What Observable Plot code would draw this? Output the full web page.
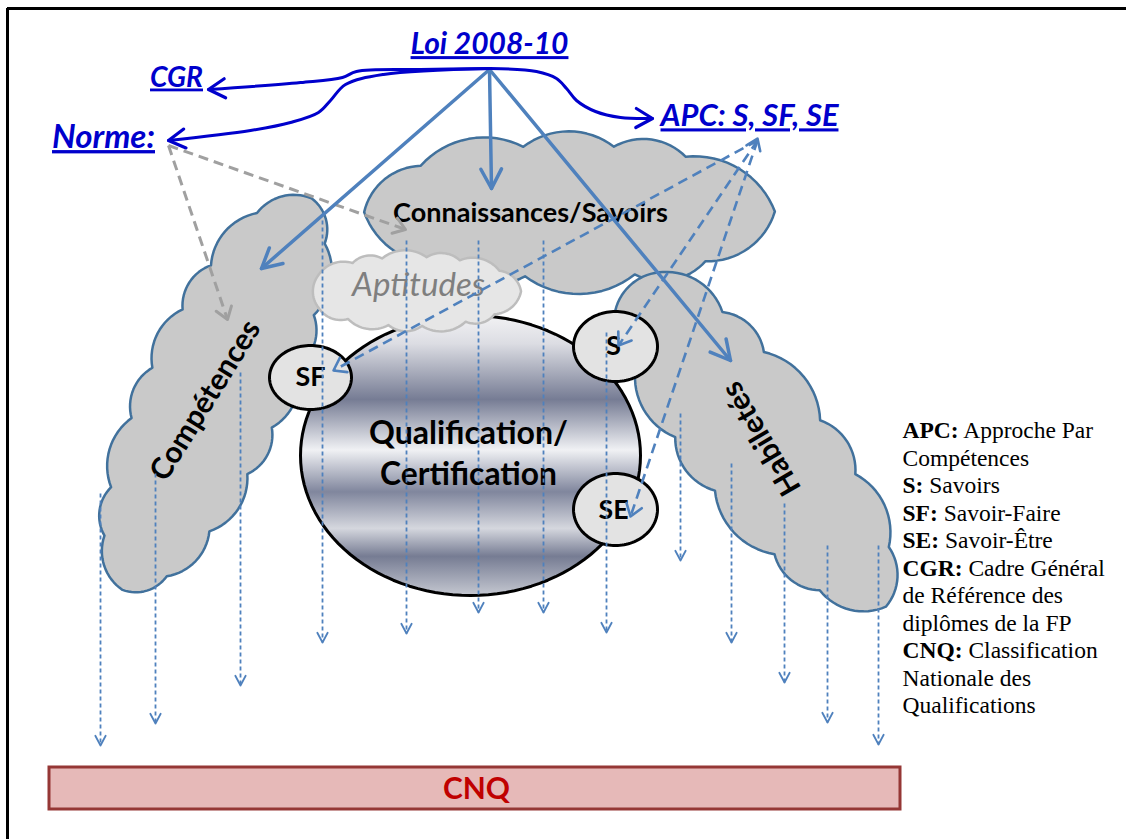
<!DOCTYPE html>
<html><head><meta charset="utf-8">
<script src="https://cdn.jsdelivr.net/npm/d3@7"></script>
<script src="https://cdn.jsdelivr.net/npm/@observablehq/plot@0.6"></script>
<style>body{margin:0;background:#fff} svg{display:block}</style>
</head><body><div id="chart"></div>
<script>
// ---------- texts ----------
const linkTexts = ["Loi 2008-10", "CGR", "Norme:", "APC: S, SF, SE"];
const shapeTexts = ["Connaissances/Savoirs", "Compétences", "Habiletés", "Qualification/", "Certification", "SF", "S", "SE"];
const aptText = "Aptitudes";
const cnqText = "CNQ";
const legendLines = ["APC: Approche Par", "Compétences", "S: Savoirs", "SF: Savoir-Faire", "SE: Savoir-Être",
  "CGR: Cadre Général", "de Référence des", "diplômes de la FP", "CNQ: Classification", "Nationale des", "Qualifications"];

// ---------- layout (diagram coordinates) ----------
const linkPos = [[489, 44], [176, 77], [103, 137], [749, 116]];
const linkWidths = [158, 53, 103, 178];
const shapePos = [[530, 213], [205, 400], [761, 438], [468, 433], [468, 474], [310, 377], [613, 346], [613, 510]];
const shapeWidths = [275, 182, 126, 199, 177, 30, 15, 30];
const shapeRotate = [0, -58.3, -120.4, 0, 0, 0, 0, 0];
const aptPos = [418, 285], aptWidth = 133;
const cnqPos = [476, 789], cnqWidth = 67;
const cnqBar = {x1: 49, x2: 900, y1: 767, y2: 809};
const legendX = 902, legendY0 = 430, legendStep = 27.5;

// clouds: center, half-length, half-width, axis angle, bump chord
const cloudNames = ["conn", "comp", "hab", "apt"];
const cloudCenter = [[569, 211], [214, 392], [754, 438], [413, 291]];
const cloudHalfLen = [221, 228, 226, 114];
const cloudHalfWid = [82, 77, 76, 41];
const cloudAngle = [0, 115, 52, 0];
const cloudBump = [92, 60, 74, 38];
const bumpWeights = [1, 0.8, 1.2, 0.9, 1.1, 0.85, 1.15];

// ellipses: big circle and SF / S / SE
const ellipseNames = ["qual", "SF", "S", "SE"];
const ellipseCenter = [[470, 455], [310, 377], [615, 346], [615, 509]];
const ellipseRadii = [[170, 140], [41, 32], [42, 35], [42, 36]];

// arrows
const loiOrigin = [489, 69];
const loiTargets = [[261, 268], [491, 188], [730, 360]];
const normeOrigin = [168, 145];
const normeTargets = [[405, 229], [227, 319]];
const apcOrigin = [757, 140];
const apcTargets = [[333, 370], [618, 345], [630, 516]];
const vArrowX = [100, 155, 240, 322, 406, 478, 543, 606, 680, 731, 784, 827, 878];
const vArrowTop = [493, 473, 372, 220, 240, 240, 240, 332, 413, 463, 503, 545, 545];
const vArrowTip = [745, 723, 685, 642, 633, 612, 612, 632, 560, 642, 682, 722, 744];
const curveCGR = [[490, 68], [420, 69], [356, 71], [342, 77], [300, 82], [208, 89]];
const curveNorme = [[490, 68], [383, 74], [345, 84], [330, 100], [318, 112], [290, 122], [250, 130], [168, 140]];
const curveAPC = [[490, 68], [536, 71], [556, 78], [566, 88], [576, 100], [595, 111], [620, 117], [652, 118]];

// ---------- helpers ----------
const ctx = document.createElement("canvas").getContext("2d");
function fitSize(text, width, weight, style, family) {
  ctx.font = `${style} ${weight} 100px ${family}`;
  return 100 * width / ctx.measureText(text).width;
}
const SANS = "Lato";
const BULGE = 0.17;

function cloudOutline(i) {
  const [cx, cy] = cloudCenter[i], bw = cloudBump[i], h0 = BULGE * bw;
  const a = cloudHalfLen[i] - h0, b = cloudHalfWid[i] - h0, th = cloudAngle[i] * Math.PI / 180;
  const rot = ([x, y]) => ({x: cx + x * Math.cos(th) - y * Math.sin(th), y: cy + x * Math.sin(th) + y * Math.cos(th), cloud: cloudNames[i]});
  const N = 720, pts = [], cum = [0];
  for (let k = 0; k <= N; k++) { const t = 2 * Math.PI * k / N; pts.push([a * Math.cos(t), b * Math.sin(t)]); }
  for (let k = 1; k <= N; k++) cum.push(cum[k - 1] + Math.hypot(pts[k][0] - pts[k - 1][0], pts[k][1] - pts[k - 1][1]));
  const per = cum[N], n = Math.max(6, Math.round(per / bw));
  const w = d3.range(n).map(j => bumpWeights[j % bumpWeights.length]), ws = d3.cumsum(w), tot = ws[n - 1];
  const cusps = [[a, 0]];
  let k = 0;
  for (let j = 0; j < n - 1; j++) {
    const target = per * ws[j] / tot;
    while (cum[k + 1] < target) k++;
    cusps.push(pts[k]);
  }
  const out = [];
  for (let j = 0; j < n; j++) {
    const P1 = cusps[j], P2 = cusps[(j + 1) % n];
    const dx = P2[0] - P1[0], dy = P2[1] - P1[1], c = Math.hypot(dx, dy);
    const ux = dx / c, uy = dy / c, M = [(P1[0] + P2[0]) / 2, (P1[1] + P2[1]) / 2];
    let nx = -uy, ny = ux;
    if (nx * M[0] + ny * M[1] < 0) { nx = -nx; ny = -ny; }
    const h = BULGE * c, R = (c * c / 4 + h * h) / (2 * h), al = Math.asin(Math.min(1, c / 2 / R));
    const C = [M[0] - nx * (R - h), M[1] - ny * (R - h)];
    const m = 16;
    for (let q = 0; q < m; q++) {
      const f = -al + 2 * al * q / m;
      out.push(rot([C[0] + R * (ux * Math.sin(f) + nx * Math.cos(f)), C[1] + R * (uy * Math.sin(f) + ny * Math.cos(f))]));
    }
  }
  return out;
}
function ellipsePts(i) {
  const [cx, cy] = ellipseCenter[i], [rx, ry] = ellipseRadii[i], out = [];
  for (let k = 0; k < 120; k++) { const t = 2 * Math.PI * k / 120; out.push({x: cx + rx * Math.cos(t), y: cy + ry * Math.sin(t), id: ellipseNames[i]}); }
  return out;
}
function heads(list, len, half) {
  const out = [], h = half * Math.PI / 180;
  list.forEach((a, i) => {
    const dx = a.x2 - a.x1, dy = a.y2 - a.y1, d = Math.hypot(dx, dy), bx = -dx / d, by = -dy / d;
    const w = s => [a.x2 + len * (bx * Math.cos(s * h) - by * Math.sin(s * h)), a.y2 + len * (bx * Math.sin(s * h) + by * Math.cos(s * h))];
    const [p, q] = [w(1), w(-1)];
    out.push({x: p[0], y: p[1], z: i}, {x: a.x2, y: a.y2, z: i}, {x: q[0], y: q[1], z: i});
  });
  return out;
}
const seg = (o, t) => ({x1: o[0], y1: o[1], x2: t[0], y2: t[1]});

// ---------- derived tables ----------
const clouds = cloudNames.map((_, i) => cloudOutline(i));
const linkData = linkTexts.map((t, i) => ({t, x: linkPos[i][0], y: linkPos[i][1], s: fitSize(t, linkWidths[i], "bold", "italic", SANS)}));
const shapeData = shapeTexts.map((t, i) => ({t, x: shapePos[i][0], y: shapePos[i][1], r: shapeRotate[i], s: fitSize(t, shapeWidths[i], "bold", "normal", SANS)}));
const aptData = [{t: aptText, x: aptPos[0], y: aptPos[1], s: fitSize(aptText, aptWidth, "normal", "italic", SANS)}];
const cnqData = [{t: cnqText, x: cnqPos[0], y: cnqPos[1], s: fitSize(cnqText, cnqWidth, "bold", "normal", SANS)}];
const legendData = legendLines.map((t, i) => ({t, x: legendX, y: legendY0 + i * legendStep}));
const loiArrows = loiTargets.map(t => seg(loiOrigin, t));
const normeArrows = normeTargets.map(t => seg(normeOrigin, t));
const apcArrows = apcTargets.map(t => seg(apcOrigin, t));
const apcTopHead = [{x1: 735, y1: 190, x2: apcOrigin[0], y2: apcOrigin[1] - 2}];
const vArrows = vArrowX.map((x, i) => ({x1: x, y1: vArrowTop[i], x2: x, y2: vArrowTip[i]}));
const curves = [curveCGR, curveNorme, curveAPC];
const curvePts = curves.flatMap((c, i) => c.map(([x, y]) => ({x, y, z: i})));
const curveHeads = curves.map(c => seg(c[c.length - 2], c[c.length - 1]));

const BLUE = "#4f81bd", DARKBLUE = "#0000cc";

const cloudMark = (i, fill, stroke) =>
  Plot.line(clouds[i], {x: "x", y: "y", curve: "linear-closed", fill, stroke, strokeWidth: 2.5, strokeLinejoin: "round"});
const headMark = (list, len, half, stroke, sw) =>
  Plot.line(heads(list, len, half), {x: "x", y: "y", z: "z", stroke, strokeWidth: sw, strokeLinecap: "round", strokeLinejoin: "round"});

const svg = Plot.plot({
  width: 1126, height: 839, margin: 0,
  x: {domain: [0, 1126], range: [0, 1126], axis: null},
  y: {domain: [0, 839], range: [0, 839], axis: null},
  style: {background: "white"},
  marks: [
    // frame
    Plot.ruleX([{x: 7, y1: 8, y2: 839}], {x: "x", y1: "y1", y2: "y2", stroke: "black", strokeWidth: 3}),
    Plot.ruleY([{y: 8, x1: 7, x2: 1126}], {y: "y", x1: "x1", x2: "x2", stroke: "black", strokeWidth: 3}),
    // clouds
    cloudMark(0, "#c9c9c9", "#41719c"),
    cloudMark(1, "#c9c9c9", "#41719c"),
    cloudMark(2, "#c9c9c9", "#41719c"),
    // big circle
    Plot.line(ellipsePts(0), {x: "x", y: "y", z: "id", curve: "linear-closed", fill: "url(#qualGrad)", stroke: "black", strokeWidth: 3}),
    cloudMark(3, "#e6e6e6", "#bdbdbd"),
    // small ellipses
    Plot.line([1, 2, 3].flatMap(ellipsePts), {x: "x", y: "y", z: "id", curve: "linear-closed", fill: "#e3e3e3", stroke: "black", strokeWidth: 3}),
    // texts in shapes
    Plot.text(shapeData, {x: "x", y: "y", text: "t", rotate: "r", fontSize: "s", fontWeight: "bold", fontFamily: SANS, fill: "black"}),
    Plot.text(aptData, {x: "x", y: "y", text: "t", fontSize: "s", fontStyle: "italic", fontFamily: SANS, fill: "#7f7f7f"}),
    // vertical dashed arrows
    Plot.link(vArrows, {x1: "x1", y1: "y1", x2: "x2", y2: "y2", stroke: BLUE, strokeWidth: 1.8, strokeDasharray: "4,3"}),
    headMark(vArrows, 11, 28, BLUE, 1.8),
    // dashed arrows from APC
    Plot.link(apcArrows, {x1: "x1", y1: "y1", x2: "x2", y2: "y2", stroke: BLUE, strokeWidth: 2.6, strokeDasharray: "10,6"}),
    headMark(apcArrows, 14, 35, BLUE, 2.6),
    headMark(apcTopHead, 13, 35, BLUE, 2.6),
    // grey dashed arrows from Norme
    Plot.link(normeArrows, {x1: "x1", y1: "y1", x2: "x2", y2: "y2", stroke: "#a0a0a0", strokeWidth: 3, strokeDasharray: "10,6"}),
    headMark(normeArrows, 14, 35, "#a0a0a0", 3),
    // solid arrows from Loi
    Plot.link(loiArrows, {x1: "x1", y1: "y1", x2: "x2", y2: "y2", stroke: BLUE, strokeWidth: 3.5, strokeLinecap: "round"}),
    headMark(loiArrows, 22, 28, BLUE, 3.5),
    // curved arrows
    Plot.line(curvePts, {x: "x", y: "y", z: "z", curve: "catmull-rom", stroke: DARKBLUE, strokeWidth: 3}),
    headMark(curveHeads, 19, 30, DARKBLUE, 3.2),
    // link labels
    Plot.text(linkData, {x: "x", y: "y", text: "t", fontSize: "s", fontWeight: "bold", fontStyle: "italic", fontFamily: SANS, fill: DARKBLUE, ariaDescription: "links"}),
    // CNQ bar
    Plot.rect([cnqBar], {x1: "x1", x2: "x2", y1: "y1", y2: "y2", fill: "#e6b9b8", stroke: "#953735", strokeWidth: 3}),
    Plot.text(cnqData, {x: "x", y: "y", text: "t", fontSize: "s", fontWeight: "bold", fontFamily: SANS, fill: "#c00000"}),
    // legend
    Plot.text(legendData, {x: "x", y: "y", text: "t", textAnchor: "start", fontSize: 23.5, fontFamily: "Liberation Serif", fill: "black", ariaDescription: "legend"})
  ]
});

// gradient for the big circle
const defs = d3.select(svg).insert("defs", ":first-child");
const grad = defs.append("linearGradient").attr("id", "qualGrad").attr("x1", 0).attr("y1", 0).attr("x2", 0).attr("y2", 1);
[[0, "#f2f2f4"], [0.1, "#dcdde3"], [0.3, "#767c94"], [0.48, "#f0f1f4"], [0.63, "#80869d"], [0.76, "#d5d7de"], [0.86, "#767c93"], [1, "#c5c8d1"]]
  .forEach(([o, c]) => grad.append("stop").attr("offset", o).attr("stop-color", c));

d3.select(svg).selectAll('[aria-description="links"] text').style("text-decoration", "underline");
d3.select(svg).selectAll('[aria-description="legend"] text').each(function () {
  const s = this.textContent, i = s.indexOf(":");
  const sel = d3.select(this).style("white-space", "pre");
  if (i < 0) return;
  sel.text(null);
  sel.append("tspan").attr("font-weight", "bold").text(s.slice(0, i + 1));
  sel.append("tspan").text(s.slice(i + 1));
});
document.getElementById("chart").append(svg);
</script></body></html>
